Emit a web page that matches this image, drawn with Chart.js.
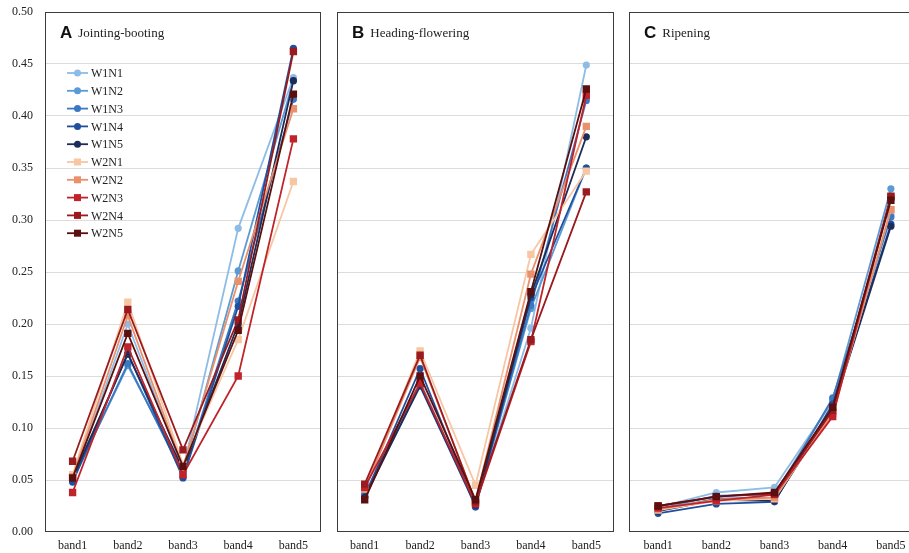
<!DOCTYPE html>
<html lang="en">
<head>
<meta charset="UTF-8">
<title>Band reflectance by growth stage</title>
<script src="https://cdn.jsdelivr.net/npm/chart.js"></script>
<style>
  html, body { margin: 0; padding: 0; background: #fff; overflow: hidden; }
  #wrap { position: relative; width: 909px; height: 553px; overflow: hidden; }
  #wrap canvas { position: absolute; top: 0; }
</style>
</head>
<body>
<div id="wrap">
  <canvas id="panelA" width="321" height="553" style="left:0px"></canvas>
  <canvas id="panelB" width="277" height="553" style="left:337px"></canvas>
  <canvas id="panelC" width="291" height="553" style="left:629px"></canvas>
</div>

<script>
// bands on the x axis
const bands = ['band1', 'band2', 'band3', 'band4', 'band5'];

// treatments, in legend order
const seriesNames = ['W1N1', 'W1N2', 'W1N3', 'W1N4', 'W1N5', 'W2N1', 'W2N2', 'W2N3', 'W2N4', 'W2N5'];
const seriesColors = ['#8dbde6', '#5b9bd5', '#3b78c2', '#1f4f9c', '#1b2d58',
                      '#f7c6a3', '#e9916d', '#c0232a', '#9a1b1f', '#5c0f0f'];

// y axis ticks
const yTicks = [0, 0.05, 0.10, 0.15, 0.20, 0.25, 0.30, 0.35, 0.40, 0.45, 0.50];

// A: jointing-booting (rows follow seriesNames)
const jointingBooting = [
  [0.050, 0.200, 0.060, 0.292, 0.437],
  [0.050, 0.160, 0.058, 0.251, 0.434],
  [0.049, 0.162, 0.055, 0.222, 0.416],
  [0.048, 0.172, 0.052, 0.217, 0.465],
  [0.052, 0.171, 0.060, 0.200, 0.434],
  [0.055, 0.221, 0.065, 0.185, 0.337],
  [0.053, 0.208, 0.062, 0.241, 0.407],
  [0.038, 0.178, 0.055, 0.150, 0.378],
  [0.068, 0.214, 0.079, 0.204, 0.462],
  [0.052, 0.191, 0.063, 0.194, 0.421]
];

// B: heading-flowering
const headingFlowering = [
  [0.037, 0.145, 0.026, 0.196, 0.449],
  [0.036, 0.142, 0.025, 0.215, 0.350],
  [0.035, 0.140, 0.025, 0.218, 0.415],
  [0.034, 0.157, 0.024, 0.225, 0.350],
  [0.033, 0.141, 0.026, 0.228, 0.380],
  [0.041, 0.174, 0.045, 0.267, 0.347],
  [0.041, 0.168, 0.030, 0.248, 0.390],
  [0.043, 0.143, 0.027, 0.183, 0.420],
  [0.046, 0.170, 0.029, 0.185, 0.327],
  [0.031, 0.150, 0.031, 0.231, 0.426]
];

// C: ripening
const ripening = [
  [0.024, 0.038, 0.043, 0.126, 0.305],
  [0.022, 0.035, 0.036, 0.127, 0.330],
  [0.021, 0.032, 0.033, 0.129, 0.303],
  [0.018, 0.027, 0.029, 0.123, 0.296],
  [0.020, 0.031, 0.030, 0.118, 0.294],
  [0.021, 0.030, 0.032, 0.115, 0.310],
  [0.022, 0.031, 0.033, 0.114, 0.310],
  [0.023, 0.030, 0.036, 0.111, 0.322],
  [0.025, 0.034, 0.037, 0.117, 0.323],
  [0.025, 0.034, 0.038, 0.120, 0.319]
];

const SERIF = '"Liberation Serif", "Times New Roman", serif';
const SANS = '"Liberation Sans", Arial, sans-serif';

function markerStyle(i) {
  return i < 5 ? 'circle' : 'rect';
}

function markerRadius(i) {
  return i < 5 ? 3.6 : 5.2;
}

// keep the plot area flush with the canvas edges
function noEdgePadding(scale) {
  scale.paddingLeft = 0;
  scale.paddingRight = 0;
  scale.paddingTop = 0;
  scale.paddingBottom = 0;
}

// frame around the plot area plus the panel heading
const panelFrame = {
  id: 'panelFrame',
  afterDraw(chart, args, opts) {
    const { ctx, chartArea: a } = chart;
    ctx.save();
    ctx.strokeStyle = '#3c3c3c';
    ctx.lineWidth = 1;
    ctx.strokeRect(a.left + 0.5, a.top + 0.5, a.right - a.left - 1, a.bottom - a.top - 1);

    ctx.fillStyle = '#111';
    ctx.textBaseline = 'alphabetic';
    ctx.font = 'bold 17px ' + SANS;
    ctx.fillText(opts.letter, a.left + 15, a.top + 26);
    const w = ctx.measureText(opts.letter).width;
    ctx.font = '13px ' + SERIF;
    ctx.fillStyle = '#222';
    ctx.fillText(opts.title, a.left + 15 + w + 6, a.top + 25);
    ctx.restore();
  }
};

// vertical legend inside panel A
const stackedLegend = {
  id: 'stackedLegend',
  afterDraw(chart, args, opts) {
    if (!opts.show) return;
    const { ctx, chartArea: a } = chart;
    ctx.save();
    chart.data.datasets.forEach((ds, i) => {
      const y = a.top + 61 + i * 17.8;
      const x0 = a.left + 22;
      ctx.strokeStyle = ds.borderColor;
      ctx.lineWidth = 1.8;
      ctx.beginPath();
      ctx.moveTo(x0, y);
      ctx.lineTo(x0 + 21, y);
      ctx.stroke();
      ctx.fillStyle = ds.borderColor;
      if (i < 5) {
        ctx.beginPath();
        ctx.arc(x0 + 10.5, y, 3.5, 0, Math.PI * 2);
        ctx.fill();
      } else {
        ctx.fillRect(x0 + 10.5 - 3.5, y - 3.5, 7, 7);
      }
      ctx.fillStyle = '#222';
      ctx.font = '12px ' + SERIF;
      ctx.textBaseline = 'middle';
      ctx.fillText(ds.label, x0 + 24, y + 1);
    });
    ctx.restore();
  }
};

// later series sit on top of earlier ones
function buildDatasets(rows) {
  return rows.map((row, i) => ({
    label: seriesNames[i],
    data: row,
    order: rows.length - i,
    borderColor: seriesColors[i],
    backgroundColor: seriesColors[i],
    borderWidth: 1.8,
    pointStyle: markerStyle(i),
    pointRadius: markerRadius(i),
    pointBorderWidth: 0,
    tension: 0
  }));
}

function makePanel(canvasId, rows, letter, title, showAxis, showLegend) {
  new Chart(document.getElementById(canvasId), {
    type: 'line',
    data: { labels: bands, datasets: buildDatasets(rows) },
    options: {
      responsive: false,
      animation: false,
      layout: { autoPadding: false, padding: { top: 12, right: 0, left: 0, bottom: 0 } },
      plugins: {
        legend: { display: false },
        tooltip: { enabled: false },
        panelFrame: { letter: letter, title: title },
        stackedLegend: { show: showLegend }
      },
      scales: {
        x: {
          offset: true,
          grid: { display: false, drawTicks: false },
          border: { display: false },
          ticks: { color: '#222', font: { family: SERIF, size: 12 }, padding: 7, maxRotation: 0 },
          afterFit(scale) {
            scale.height = 21;
            noEdgePadding(scale);
          }
        },
        y: {
          min: 0,
          max: 0.5,
          afterBuildTicks(scale) { scale.ticks = yTicks.map(v => ({ value: v })); },
          grid: {
            drawTicks: false,
            lineWidth: 1,
            color: ctx => (ctx.tick && (ctx.tick.value <= 0 || ctx.tick.value >= 0.5)) ? 'rgba(0,0,0,0)' : '#dcdcdc'
          },
          border: { display: false },
          ticks: {
            display: showAxis,
            color: '#222',
            padding: 12,
            font: { family: SERIF, size: 12 },
            callback: v => Number(v).toFixed(2)
          },
          afterFit(scale) {
            scale.width = showAxis ? 45 : 0;
            noEdgePadding(scale);
          }
        }
      }
    },
    plugins: [panelFrame, stackedLegend]
  });
}

makePanel('panelA', jointingBooting, 'A', 'Jointing-booting', true, true);
makePanel('panelB', headingFlowering, 'B', 'Heading-flowering', false, false);
makePanel('panelC', ripening, 'C', 'Ripening', false, false);
</script>
</body>
</html>
